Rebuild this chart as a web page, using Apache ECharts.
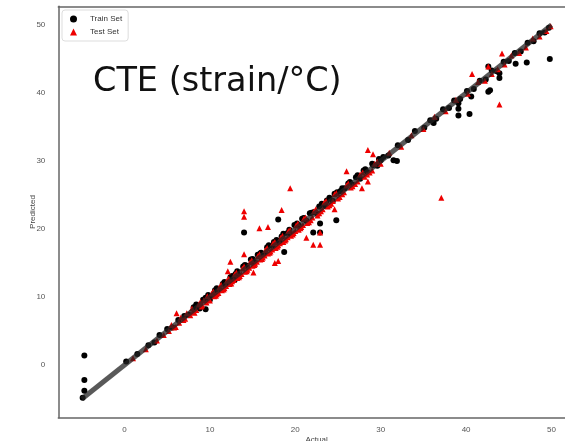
<!DOCTYPE html>
<html>
<head>
<meta charset="utf-8">
<script src="https://cdn.jsdelivr.net/npm/echarts@6/dist/echarts.min.js"></script>
<style>
  html, body { margin: 0; padding: 0; background: #fff; }
  #chart { width: 565px; height: 441px; }
</style>
</head>
<body>
<div id="chart"></div>
<script>
// Parity plot: predicted vs. actual CTE for the train and test sets
const tickValues = [0, 10, 20, 30, 40, 50];
const axisMin = -7.75;
const axisMax = 52.75;
const identityLine = [[-5, -5], [50, 50]];

// [actual, predicted]
const trainSet = [
  [0.2,0.5],[1.5,1.6],[2.8,2.9],[3.5,3.3],[4.1,4.4],[5.0,5.3],[5.6,5.5],[6.3,6.6],[7.0,7.2],[7.5,7.4],
  [8.1,8.5],[8.6,8.7],[9.2,9.6],[9.8,10.3],[10.3,10.2],[10.8,11.3],[11.2,11.0],[11.7,12.2],[12.1,12.0],[12.6,13.1],
  [13.0,13.4],[13.4,13.2],[13.9,14.5],[14.3,14.6],[14.8,15.5],[15.2,15.1],[15.6,16.2],[16.0,16.5],[16.5,16.4],[16.9,17.6],
  [17.3,17.5],[17.8,18.4],[18.2,18.0],[18.6,19.3],[19.1,19.4],[19.5,19.2],[19.9,20.6],[20.4,20.5],[20.8,21.5],[21.3,21.2],
  [21.7,22.3],[22.2,22.5],[22.6,22.2],[23.1,23.7],[23.5,23.4],[24.0,24.6],[24.4,24.1],[24.9,25.4],[25.3,25.6],[25.8,26.0],
  [26.2,26.7],[26.7,26.5],[27.1,27.6],[27.6,27.4],[28.0,28.6],[28.5,28.3],[29.1,29.4],[29.6,29.3],[30.3,30.6],[30.9,30.8],
  [32.0,32.3],[33.2,33.1],[34.0,34.4],[35.1,34.9],[35.8,36.0],[36.5,36.2],[37.3,37.6],[38.0,37.8],[38.6,38.9],[39.3,39.1],
  [40.1,40.3],[40.9,40.6],[41.6,41.8],[42.3,42.0],[43.0,43.3],[43.6,43.2],[44.4,44.6],[45.0,44.7],[45.7,45.9],[46.4,46.1],
  [47.2,47.4],[47.9,47.6],[48.6,48.8],[49.2,48.9],[49.7,49.6],
  [8.4,8.9],[9.5,9.9],[10.6,11.0],[11.5,11.9],[12.4,12.9],[13.2,13.8],[14.1,14.7],[15.0,15.6],[15.9,16.4],[16.7,17.3],
  [17.5,18.1],[18.4,18.9],[19.3,19.9],[20.2,20.8],[21.0,21.6],[21.9,22.4],[22.8,23.3],[23.7,24.2],[24.6,25.2],[25.5,26.0],
  [26.4,26.9],[27.3,27.9],[28.2,28.8],[29.0,29.6],[29.8,30.3],[8.8,8.3],[10.0,9.6],[12.9,12.5],
  [49.8,45.0],[47.1,44.5],[45.8,44.3],[43.9,42.9],[43.9,42.2],[42.8,40.4],[42.6,40.2],[42.6,43.9],[40.6,39.5],[39.1,38.5],
  [39.1,37.7],[39.1,36.7],[40.4,36.9],[36.2,35.6],[31.5,30.1],[31.9,30.0],[30.0,30.1],[18.0,21.4],[24.8,21.3],[14.0,19.5],
  [22.9,20.8],[22.1,19.5],[22.9,19.5],[18.7,16.6],[9.5,8.2],[-4.7,1.4],[-4.7,-2.2],[-4.7,-3.8],[-4.9,-4.8]
];

const testSet = [
  [1.0,1.0],[2.5,2.3],[3.8,3.6],[4.6,4.4],[5.2,5.0],[5.8,5.5],[6.4,6.2],[6.9,6.6],[7.3,7.6],[7.7,7.3],
  [8.0,7.8],[8.4,8.1],[8.7,8.9],[9.0,8.6],[9.3,9.5],[9.6,9.2],[9.9,9.6],[10.2,10.5],[10.5,10.1],[10.8,10.4],
  [11.1,11.4],[11.4,11.0],[11.7,11.3],[12.0,12.4],[12.3,11.9],[12.6,12.3],[12.9,13.3],[13.2,12.8],[13.5,13.1],[13.8,14.2],
  [14.1,13.7],[14.4,14.0],[14.7,15.1],[15.0,14.6],[15.3,14.9],[15.6,16.0],[15.9,15.5],[16.2,15.8],[16.5,16.9],[16.8,16.4],
  [17.1,16.7],[17.4,17.9],[17.7,17.2],[18.0,17.6],[18.3,18.7],[18.6,18.1],[18.9,18.5],[19.2,19.7],[19.5,19.0],[19.8,19.4],
  [20.1,20.5],[20.4,19.9],[20.7,20.3],[21.0,21.5],[21.4,20.9],[21.8,21.3],[22.2,22.6],[22.6,22.0],[23.0,22.6],[23.4,23.9],
  [23.8,23.3],[24.2,23.7],[24.6,25.1],[25.0,24.5],[25.5,25.1],[26.0,26.4],[26.5,26.1],[27.0,26.6],[27.6,28.0],[28.1,27.7],
  [28.7,28.3],[29.3,29.6],[30.0,29.6],[31.0,31.2],[32.4,32.1],[33.6,33.8],[35.0,34.7],[36.3,36.5],[37.6,37.3],[38.8,39.0],
  [40.2,39.9],[41.4,41.6],[42.2,41.8],[43.0,42.8],[43.7,43.5],[44.5,44.2],[45.3,45.5],[46.2,45.9],[47.0,46.7],[47.8,48.0],
  [48.6,48.3],[49.4,49.1],[49.9,49.8],
  [5.5,5.9],[6.0,5.6],[6.6,7.0],[7.1,6.8],[7.9,8.3],[8.2,7.7],[8.9,9.3],[9.1,8.8],[9.7,10.1],[10.0,9.5],
  [10.4,10.8],[10.7,10.2],[11.0,10.6],[11.3,11.8],[11.6,11.1],[11.9,11.6],[12.2,12.7],[12.5,12.0],[12.8,12.5],[13.1,13.6],
  [13.4,12.9],[13.7,13.4],[14.0,14.5],[14.3,13.8],[14.6,14.3],[14.9,15.4],[15.2,14.7],[15.5,15.2],[15.8,16.3],[16.1,15.6],
  [16.4,16.1],[16.7,17.2],[17.0,16.5],[17.3,17.0],[17.6,18.1],[17.9,17.4],[18.2,17.9],[18.5,19.0],[18.8,18.3],[19.1,18.8],
  [19.4,19.9],[19.7,19.2],[20.0,19.7],[20.3,20.8],[20.6,20.1],[20.9,20.6],[21.2,21.7],[21.6,21.0],[22.0,21.7],[22.4,22.9],
  [22.8,22.3],[23.2,22.9],[23.6,24.1],[24.0,23.5],[24.4,24.1],[24.8,25.3],[25.2,24.7],[25.7,25.4],[26.2,26.7],[26.7,26.3],
  [27.3,27.0],[27.9,28.3],[28.4,28.0],[29.0,28.6],[29.6,29.9],
  [44.2,45.8],[42.6,43.9],[40.7,42.8],[43.9,38.3],[37.1,24.6],[28.5,31.6],[29.1,31.0],[26.0,28.5],[19.4,26.0],[28.5,27.0],
  [27.8,26.0],[14.0,22.6],[14.0,21.8],[18.4,22.8],[24.6,22.9],[15.8,20.1],[16.8,20.3],[22.9,19.5],[21.3,18.7],[22.1,17.7],
  [22.9,17.7],[12.4,15.2],[14.0,16.3],[17.6,15.0],[18.0,15.3],[15.1,13.6],[12.1,13.8],[6.1,7.6]
];

const chart = echarts.init(document.getElementById('chart'), null, { renderer: 'canvas' });

const labelFont = 'Liberation Sans, Arial, sans-serif';
const labelStyle = { color: '#555', fontSize: 8, fontFamily: labelFont };
const frameLine = { show: true, onZero: false, lineStyle: { color: '#666', width: 1.5 } };

chart.setOption({
  animation: false,
  backgroundColor: '#fff',
  grid: {
    left: 58.3, right: -10, top: 6.3, bottom: 23.3,
    outerBoundsMode: 'none',
    show: false
  },
  title: {
    text: 'CTE (strain/°C)',
    left: 88, top: 60,
    textStyle: { fontFamily: 'DejaVu Sans, sans-serif', fontWeight: 'normal', fontSize: 33.5, color: '#111' }
  },
  legend: {
    left: 62, top: 10, orient: 'vertical',
    itemWidth: 7, itemHeight: 7, itemGap: 5,
    padding: [5, 6, 5, 8],
    borderColor: '#ddd', borderWidth: 1, borderRadius: 3, backgroundColor: '#fff',
    textStyle: { fontSize: 8, color: '#333', fontFamily: labelFont, padding: [0, 0, 0, 8] },
    data: [
      { name: 'Train Set', icon: 'circle' },
      { name: 'Test Set', icon: 'triangle' }
    ]
  },
  xAxis: [
    {
      type: 'value', min: axisMin, max: axisMax, position: 'bottom',
      name: 'Actual', nameLocation: 'middle', nameGap: 18, nameMoveOverlap: false,
      nameTextStyle: { color: '#444', fontSize: 8, fontFamily: labelFont },
      axisLine: frameLine, axisTick: { show: false }, splitLine: { show: false },
      axisLabel: { ...labelStyle, margin: 8, customValues: tickValues }
    },
    {
      type: 'value', min: axisMin, max: axisMax, position: 'top',
      axisLine: frameLine, axisTick: { show: false }, splitLine: { show: false },
      axisLabel: { show: false }
    }
  ],
  yAxis: {
    type: 'value', min: axisMin, max: axisMax,
    name: 'Predicted', nameLocation: 'middle', nameGap: 22, nameMoveOverlap: false,
    nameTextStyle: { color: '#444', fontSize: 8, fontFamily: labelFont },
    axisLine: frameLine, axisTick: { show: false }, splitLine: { show: false },
    axisLabel: { ...labelStyle, margin: 13, customValues: tickValues }
  },
  series: [
    {
      name: 'Train Set', type: 'scatter', data: trainSet,
      symbol: 'circle', symbolSize: 6,
      itemStyle: { color: '#000', opacity: 1 }, z: 2
    },
    {
      name: 'Test Set', type: 'scatter', data: testSet,
      symbol: 'triangle', symbolSize: 6,
      itemStyle: { color: '#ee0000', opacity: 1 }, z: 3
    },
    {
      name: 'identity', type: 'line', data: identityLine,
      symbol: 'none', silent: true,
      lineStyle: { color: '#222', width: 5, opacity: 0.75 }, z: 4
    }
  ]
});
</script>
</body>
</html>
